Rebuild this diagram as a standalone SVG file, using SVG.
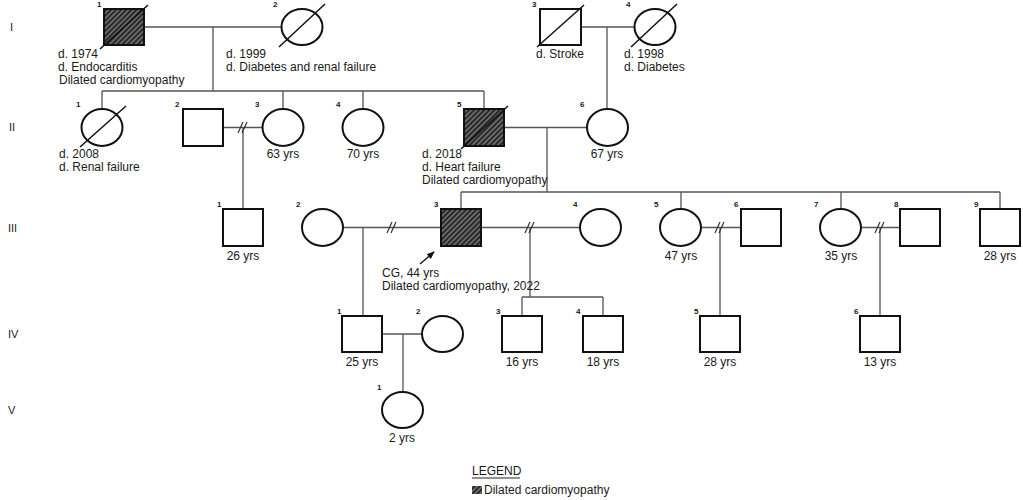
<svg xmlns="http://www.w3.org/2000/svg" width="1023" height="500" viewBox="0 0 1023 500">
<defs>
<pattern id="hatch" patternUnits="userSpaceOnUse" width="3.6" height="3.6" patternTransform="rotate(45)">
<rect width="3.6" height="3.6" fill="#262626"/>
<line x1="0.9" y1="0" x2="0.9" y2="3.6" stroke="#a0a0a0" stroke-width="1"/>
</pattern>
<marker id="arr" markerWidth="8" markerHeight="8" refX="7" refY="4" orient="auto" markerUnits="userSpaceOnUse">
<path d="M0,0.8 L8,4 L0,7.2 Z" fill="#111"/>
</marker>
<style>
.ln{stroke:#555;stroke-width:1.3;fill:none}
.sh{fill:#fff;stroke:#111;stroke-width:2}
.aff{fill:url(#hatch);stroke:#111;stroke-width:2}
.ds{stroke:#111;stroke-width:1.5;fill:none}
.br{stroke:#333;stroke-width:1.2;fill:none}
text{font-family:"Liberation Sans",Arial,sans-serif;fill:#1a1a1a}
.t{font-size:12px}
.c{font-size:12px;text-anchor:middle}
.n{font-size:8px;font-weight:bold}
.g{font-size:11px}
</style>
</defs>
<rect width="1023" height="500" fill="#fff"/>

<g id="generations">
<text class="g" x="10" y="31">I</text>
<text class="g" x="9" y="131">II</text>
<text class="g" x="8" y="232">III</text>
<text class="g" x="8" y="338">IV</text>
<text class="g" x="8" y="414">V</text>
</g>

<g id="connectors">
<path class="ln" d="M144,27H281 M213,27V91 M581,27H634 M607,27V109"/>
<path class="ln" d="M102,91H484 M102,91V109 M283,91V109 M363,91V109 M484,91V109"/>
<path class="ln" d="M223,127.5H262 M243,127.5V209 M504,127.5H587 M547,127.5V192"/>
<path class="ln" d="M461,192H1000 M461,192V209 M681,192V209 M841,192V209 M1000,192V209"/>
<path class="ln" d="M343,227.5H441 M363,227.5V316"/>
<path class="ln" d="M481,227.5H580 M530,227.5V297 M522,297H603 M522,297V316 M603,297V316"/>
<path class="ln" d="M701,227.5H741 M720,227.5V316"/>
<path class="ln" d="M861,227.5H900 M880,227.5V316"/>
<path class="ln" d="M382,334H422 M403,334V392"/>
<path class="br" d="M238,133 L243,122 M242,133 L247,122"/>
<path class="br" d="M387,233 L392,222 M391,233 L396,222"/>
<path class="br" d="M525,233 L530,222 M529,233 L534,222"/>
<path class="br" d="M715,233 L720,222 M719,233 L724,222"/>
<path class="br" d="M875,233 L880,222 M879,233 L884,222"/>
<line x1="420" y1="264" x2="434" y2="252" stroke="#111" stroke-width="1.3" marker-end="url(#arr)"/>
</g>

<g id="I-1"><rect class="aff" x="104" y="9" width="40" height="36"/><line class="ds" x1="100" y1="49" x2="148" y2="5"/><text class="n" x="97" y="7">1</text>
<text class="t" x="58" y="58">d. 1974</text><text class="t" x="58" y="71">d. Endocarditis</text><text class="t" x="59" y="84">Dilated cardiomyopathy</text></g>
<g id="I-2"><ellipse class="sh" cx="302" cy="27" rx="20.5" ry="18"/><line class="ds" x1="279" y1="47" x2="325" y2="4"/><text class="n" x="273" y="7">2</text>
<text class="t" x="226" y="58">d. 1999</text><text class="t" x="226" y="71">d. Diabetes and renal failure</text></g>
<g id="I-3"><rect class="sh" x="540" y="9" width="41" height="36"/><line class="ds" x1="537" y1="47" x2="584" y2="5"/><text class="n" x="532" y="7">3</text>
<text class="t" x="536" y="58">d. Stroke</text></g>
<g id="I-4"><ellipse class="sh" cx="655" cy="27" rx="20.5" ry="18"/><line class="ds" x1="631" y1="47" x2="677" y2="4"/><text class="n" x="626" y="7">4</text>
<text class="t" x="624" y="58">d. 1998</text><text class="t" x="624" y="71">d. Diabetes</text></g>

<g id="II-1"><ellipse class="sh" cx="102" cy="127.5" rx="20.5" ry="18.5"/><line class="ds" x1="80" y1="147" x2="126" y2="106"/><text class="n" x="76" y="107">1</text>
<text class="t" x="59" y="158">d. 2008</text><text class="t" x="59" y="171">d. Renal failure</text></g>
<g id="II-2"><rect class="sh" x="183" y="109" width="40" height="37"/><text class="n" x="175" y="107">2</text></g>
<g id="II-3"><ellipse class="sh" cx="283" cy="127.5" rx="20.5" ry="18.5"/><text class="n" x="255" y="107">3</text><text class="c" x="283" y="158">63 yrs</text></g>
<g id="II-4"><ellipse class="sh" cx="363" cy="127.5" rx="20.5" ry="18.5"/><text class="n" x="336" y="107">4</text><text class="c" x="363" y="158">70 yrs</text></g>
<g id="II-5"><rect class="aff" x="464" y="109" width="40" height="37"/><line class="ds" x1="461" y1="149" x2="508" y2="106"/><text class="n" x="457" y="107">5</text>
<text class="t" x="422" y="158">d. 2018</text><text class="t" x="422" y="171">d. Heart failure</text><text class="t" x="422" y="184">Dilated cardiomyopathy</text></g>
<g id="II-6"><ellipse class="sh" cx="607.5" cy="127.5" rx="20.5" ry="18.5"/><text class="n" x="580" y="107">6</text><text class="c" x="607" y="158">67 yrs</text></g>

<g id="III-1"><rect class="sh" x="223" y="209" width="40" height="37"/><text class="n" x="217" y="207">1</text><text class="c" x="243" y="260">26 yrs</text></g>
<g id="III-2"><ellipse class="sh" cx="322.5" cy="227.5" rx="20.5" ry="18.5"/><text class="n" x="296" y="207">2</text></g>
<g id="III-3"><rect class="aff" x="441" y="209" width="40" height="37"/><text class="n" x="434" y="207">3</text>
<text class="t" x="382" y="277">CG, 44 yrs</text><text class="t" x="382" y="290">Dilated cardiomyopathy, 2022</text></g>
<g id="III-4"><ellipse class="sh" cx="600.5" cy="227.5" rx="20.5" ry="18.5"/><text class="n" x="573" y="207">4</text></g>
<g id="III-5"><ellipse class="sh" cx="680.5" cy="227.5" rx="20.5" ry="18.5"/><text class="n" x="654" y="207">5</text><text class="c" x="681" y="260">47 yrs</text></g>
<g id="III-6"><rect class="sh" x="741" y="209" width="40" height="37"/><text class="n" x="734" y="207">6</text></g>
<g id="III-7"><ellipse class="sh" cx="840.5" cy="227.5" rx="20.5" ry="18.5"/><text class="n" x="814" y="207">7</text><text class="c" x="841" y="260">35 yrs</text></g>
<g id="III-8"><rect class="sh" x="900" y="209" width="40" height="37"/><text class="n" x="894" y="207">8</text></g>
<g id="III-9"><rect class="sh" x="980" y="209" width="40" height="37"/><text class="n" x="974" y="207">9</text><text class="c" x="1000" y="260">28 yrs</text></g>

<g id="IV-1"><rect class="sh" x="342" y="316" width="40" height="36"/><text class="n" x="337" y="314">1</text><text class="c" x="362" y="366">25 yrs</text></g>
<g id="IV-2"><ellipse class="sh" cx="442.5" cy="334" rx="20.5" ry="18"/><text class="n" x="416" y="314">2</text></g>
<g id="IV-3"><rect class="sh" x="502" y="316" width="40" height="36"/><text class="n" x="496" y="314">3</text><text class="c" x="522" y="366">16 yrs</text></g>
<g id="IV-4"><rect class="sh" x="583" y="316" width="40" height="36"/><text class="n" x="576" y="314">4</text><text class="c" x="603" y="366">18 yrs</text></g>
<g id="IV-5"><rect class="sh" x="700" y="316" width="40" height="36"/><text class="n" x="694" y="314">5</text><text class="c" x="720" y="366">28 yrs</text></g>
<g id="IV-6"><rect class="sh" x="860" y="316" width="40" height="36"/><text class="n" x="854" y="314">6</text><text class="c" x="880" y="366">13 yrs</text></g>

<g id="V-1"><ellipse class="sh" cx="402.5" cy="410" rx="20.5" ry="18"/><text class="n" x="377" y="390">1</text><text class="c" x="402" y="442">2 yrs</text></g>

<g id="legend">
<text class="t" x="472" y="475">LEGEND</text>
<line x1="472" y1="478" x2="520" y2="478" stroke="#222" stroke-width="1"/>
<rect x="472" y="486" width="10" height="8" fill="url(#hatch)"/>
<text class="t" x="484" y="494">Dilated cardiomyopathy</text>
</g>
</svg>
